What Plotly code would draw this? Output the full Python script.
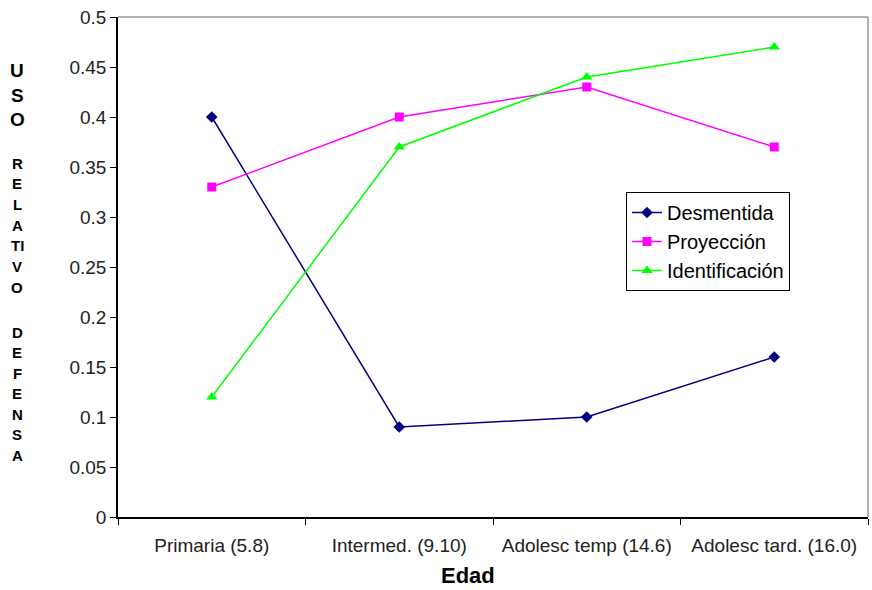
import plotly.graph_objects as go

categories = ["Primaria (5.8)", "Intermed. (9.10)", "Adolesc temp (14.6)", "Adolesc tard. (16.0)"]
desmentida = [0.40, 0.09, 0.10, 0.16]
proyeccion = [0.33, 0.40, 0.43, 0.37]
identificacion = [0.12, 0.37, 0.44, 0.47]

W, H = 872, 590
L, R, T, B = 118, 4, 17, 73
pw, ph = W - L - R, H - T - B

def px_x(x):
    return (x - L) / pw

def px_y(y):
    return (H - B - y) / ph

FONT = "Liberation Sans, Arial, sans-serif"

fig = go.Figure()
fig.add_trace(go.Scatter(x=categories, y=desmentida, name="Desmentida", mode="lines+markers",
                         line=dict(color="#000080", width=1.5),
                         marker=dict(symbol="diamond", size=9, color="#000080")))
fig.add_trace(go.Scatter(x=categories, y=proyeccion, name="Proyección", mode="lines+markers",
                         line=dict(color="#FF00FF", width=1.5),
                         marker=dict(symbol="square", size=9, color="#FF00FF")))
fig.add_trace(go.Scatter(x=categories, y=identificacion, name="Identificación", mode="lines+markers",
                         line=dict(color="#00FF00", width=1.5),
                         marker=dict(symbol="triangle-up", size=10, color="#00FF00")))

annotations = []
def letters(items, start, step, size):
    for i, ch in enumerate(items):
        annotations.append(dict(text=f"<b>{ch}</b>", x=px_x(17), y=px_y(start + i * step),
                                xref="paper", yref="paper", showarrow=False,
                                xanchor="center", yanchor="middle",
                                font=dict(family=FONT, size=size, color="black")))

letters(["U", "S", "O"], 70, 25, 19)
letters(["R", "E", "L", "A", "TI", "V", "O"], 163, 20.7, 15)
letters(["D", "E", "F", "E", "N", "S", "A"], 332, 20.5, 15)

annotations.append(dict(text="<b>Edad</b>", x=px_x(468), y=px_y(576), xref="paper", yref="paper",
                        showarrow=False, xanchor="center", yanchor="middle",
                        font=dict(family=FONT, size=22, color="black")))

fig.update_layout(
    width=W, height=H,
    margin=dict(l=L, r=R, t=T, b=B, pad=0, autoexpand=False),
    paper_bgcolor="white", plot_bgcolor="white",
    font=dict(family=FONT, size=19, color="#222"),
    showlegend=True,
    legend=dict(x=px_x(626), y=px_y(192), xanchor="left", yanchor="top",
                bordercolor="black", borderwidth=1, bgcolor="white",
                font=dict(family=FONT, size=20, color="black"),
                tracegroupgap=0),
    annotations=annotations,
    shapes=[
        dict(type="line", xref="paper", yref="paper", x0=0, x1=1, y0=1, y1=1,
             line=dict(color="#999", width=1.5), layer="below"),
        dict(type="line", xref="paper", yref="paper", x0=1, x1=1, y0=0, y1=1,
             line=dict(color="#999", width=1.5), layer="below"),
    ],
)
fig.update_xaxes(type="category", range=[-0.5, 3.5], automargin=False,
                 showline=True, linecolor="black", linewidth=1.5,
                 ticks="outside", ticklen=6, tickcolor="black", tickson="boundaries",
                 showgrid=False, zeroline=False, tickangle=0, ticklabelstandoff=10,
                 tickfont=dict(family=FONT, size=19, color="#222"))
fig.update_yaxes(range=[0, 0.5], dtick=0.05, automargin=False,
                 showline=True, linecolor="black", linewidth=1.5,
                 ticks="outside", ticklen=6, tickcolor="black",
                 showgrid=False, zeroline=False,
                 tickfont=dict(family=FONT, size=19, color="#222"))

fig.write_html("out.html", config={"displayModeBar": False},
               post_script="document.body.style.margin='0';")
